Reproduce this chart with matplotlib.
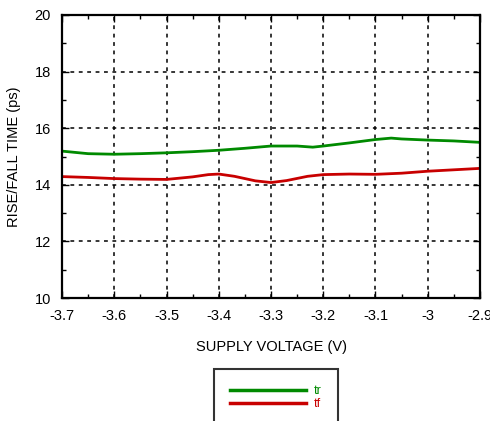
import matplotlib
matplotlib.use("Agg")
import matplotlib.pyplot as plt
from matplotlib.ticker import MultipleLocator

plt.rcParams["font.family"] = ["Liberation Sans", "DejaVu Sans"]

voltage_tr = [-3.7, -3.65, -3.6, -3.55, -3.5, -3.45, -3.4, -3.35, -3.3, -3.25, -3.22,
              -3.2, -3.15, -3.1, -3.07, -3.05, -3.0, -2.95, -2.9]
rise_time = [15.19, 15.10, 15.08, 15.10, 15.13, 15.17, 15.22, 15.29, 15.37, 15.37, 15.33,
             15.37, 15.48, 15.60, 15.65, 15.62, 15.58, 15.55, 15.50]

voltage_tf = [-3.7, -3.65, -3.6, -3.55, -3.5, -3.45, -3.42, -3.4, -3.37, -3.33, -3.3,
              -3.27, -3.23, -3.2, -3.15, -3.1, -3.05, -3.0, -2.95, -2.9]
fall_time = [14.29, 14.26, 14.22, 14.20, 14.19, 14.28, 14.36, 14.38, 14.30, 14.14, 14.08,
             14.15, 14.30, 14.36, 14.38, 14.37, 14.41, 14.48, 14.53, 14.58]

xticks = [-3.7, -3.6, -3.5, -3.4, -3.3, -3.2, -3.1, -3.0, -2.9]
xtick_labels = ["-3.7", "-3.6", "-3.5", "-3.4", "-3.3", "-3.2", "-3.1", "-3", "-2.9"]
yticks = [10, 12, 14, 16, 18, 20]

W, H = 490, 421
fig = plt.figure(figsize=(W / 100, H / 100), dpi=100)
ax = fig.add_axes([62 / W, 1 - 298 / H, (480 - 62) / W, (298 - 15) / H])

ax.plot(voltage_tr, rise_time, color="#008a00", lw=2.0, label="tr")
ax.plot(voltage_tf, fall_time, color="#c80000", lw=2.0, label="tf")

ax.set_xlim(-3.7, -2.9)
ax.set_ylim(10, 20)
ax.set_xticks(xticks)
ax.set_xticklabels(xtick_labels)
ax.set_yticks(yticks)
ax.xaxis.set_minor_locator(MultipleLocator(0.05))
ax.yaxis.set_minor_locator(MultipleLocator(1))
ax.tick_params(which="both", direction="in", top=True, right=True, labelsize=10.5, pad=8)
ax.tick_params(which="major", length=5, width=1)
ax.tick_params(which="minor", length=3, width=1)
ax.grid(True, which="major", color="black", lw=1.1, linestyle=(0, (2.5, 3)))
for s in ax.spines.values():
    s.set_linewidth(1.6)

ax.set_xlabel("SUPPLY VOLTAGE (V)", fontsize=10.5, labelpad=12)
ax.set_ylabel("RISE/FALL TIME (ps)", fontsize=10.5, labelpad=10)

leg = ax.legend(loc="upper center", bbox_to_anchor=(276 / W, 1 - 369 / H),
                bbox_transform=fig.transFigure, fontsize=9, frameon=True,
                fancybox=False, edgecolor="black", handlelength=6.1,
                handletextpad=0.6, borderpad=1.3, borderaxespad=0,
                labelspacing=0.05, markerfirst=True)
leg.get_frame().set_linewidth(1.5)
for txt, line in zip(leg.get_texts(), leg.get_lines()):
    txt.set_color(line.get_color())
    line.set_linewidth(2.5)

fig.savefig("out.png", dpi=100)
